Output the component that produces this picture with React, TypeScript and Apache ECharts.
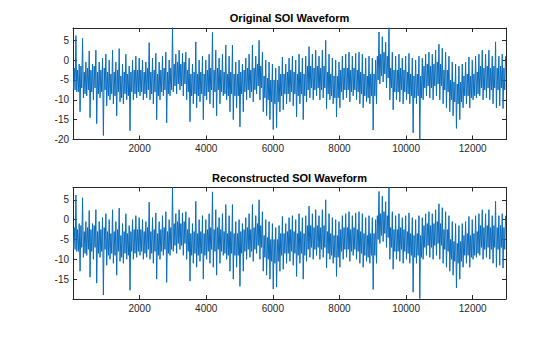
import React, { useEffect, useRef } from "react";
import * as echarts from "echarts";

// Envelope of the SOI waveform, per 100-sample bin
// (bins 0..129 cover samples 0..13000): outer low/high (incl. spikes) and the
// dense core band low/high.
const binWidth = 100;
const origLow = [
  -7.5, -8, -13, -9.5, -9, -14.5, -10, -16, -9.5, -19,
  -11.5, -10, -11, -14, -10.5, -11, -10, -17.8, -10, -9.5,
  -9, -10, -9.5, -10, -11, -15, -10, -9, -15.8, -9,
  -8, -8.5, -7.5, -9, -10, -15.5, -11, -12, -10.5, -15,
  -10, -11, -12, -14, -11, -9, -10, -13, -15, -12,
  -16.8, -13, -10, -9.5, -10.5, -8.5, -10, -13, -14, -15,
  -17.5, -17, -13, -12.5, -11, -10.5, -11.5, -14.3, -11, -15,
  -10.5, -9.5, -10, -9, -10, -9.5, -12.2, -10, -11, -14.3,
  -12, -10, -9.5, -10.5, -9, -10, -11, -12, -10.5, -11,
  -17.6, -11, -6, -5.5, -7, -10, -12.5, -10, -10.5, -11,
  -10, -11, -18.3, -11, -20, -10, -9, -9.5, -10, -9,
  -10, -11, -12, -13, -14, -17.2, -15, -12, -11, -12,
  -10, -9.5, -9, -10, -9.5, -10, -11, -12, -11.5, -12.2,
];
const origHigh = [
  6.2, -1, 5.5, -0.5, 2.3, -1, 2.5, -0.5, 0.5, 1.5,
  0, 2.5, -0.5, 2.9, -1, 1.5, -1.5, 0, 1, 0.5,
  0, -0.5, 4.4, 0.5, 1.7, -0.5, 1, 2, 0, 8.2,
  1.5, 2.5, 1.7, 2, 0.5, -1, 4.6, 0, 1, 0,
  1.5, 7, 2.5, 0.5, 1.5, 3.8, 1, 3.8, -0.5, 0,
  -1, 0.5, 1.5, 3.8, 1, 5, 2, 0, -0.5, -1,
  -2, -1.5, 0.8, -1, 0.5, 1, 0, 1.5, 0.5, 1,
  3.4, 1.5, 2.5, 1, 2.5, 5, 1.5, 0.5, 0, -0.5,
  1, 1.5, 2, 1, 1.7, 2, 1.5, 0.5, 1, 0.5,
  0, 7.1, 5.9, 4.5, 8.2, 2, 1, 1.5, 0.5, 1,
  1.7, 0.5, 0, 1, 0.5, 1.5, 2, 1.5, 2.5, 4,
  3, 2, 1, -0.5, -1, -1.5, -1, -0.5, 0.8, 0,
  1, 1.5, 2.5, 1.5, 2.5, 1, 4.6, 1, 1.5, 1,
];
const coreLow = [
  -7.5, -8, -7, -8.5, -7.5, -8, -7, -8.5, -8, -7.5,
  -9, -8.5, -9, -8, -9.5, -8.5, -9, -8, -8.5, -8,
  -8, -8.5, -7.5, -8.5, -8, -9, -8, -7.5, -8.5, -7.5,
  -6.5, -6, -6.5, -6, -8, -9, -8.5, -9, -8.5, -9,
  -8, -7.5, -8, -7.5, -8, -8.5, -9, -8.5, -9, -9,
  -8.5, -8, -7.5, -8, -7.5, -6.5, -7, -9.5, -10, -10.5,
  -11, -10.5, -9, -8.5, -8.5, -8, -8.5, -9, -8.5, -9,
  -7.5, -7, -7.5, -7, -7.5, -7, -8.5, -9, -9.5, -9.5,
  -8, -7.5, -7.5, -8, -7.5, -8, -8.5, -9, -9.5, -9,
  -9, -5, -4, -3.5, -4.5, -7, -8, -8, -7.5, -8,
  -8.5, -9, -9.5, -9, -9.5, -7, -6.5, -7, -6.5, -6,
  -6.5, -7.5, -8, -10, -10.5, -11, -10.5, -9, -9, -9.5,
  -9, -8.5, -7, -7.5, -7, -7.5, -7, -7.5, -7, -7.5,
];
const coreHigh = [
  -2, -2.5, -1.5, -3, -2, -2.5, -1.5, -3, -2.5, -2,
  -3, -3.5, -3, -2.5, -4, -3, -3.5, -3, -2.5, -2.5,
  -2.5, -3, -2, -3, -2.5, -3.5, -2.5, -2, -3, -2,
  -1, -0.5, -1, -0.5, -2.5, -3.5, -3, -3.5, -3, -3.5,
  -2.5, -2, -2.5, -2, -2.5, -3, -3.5, -3, -3.5, -3.5,
  -3, -2.5, -2, -2.5, -2, -1, -1.5, -4, -4.5, -5,
  -5, -5, -3.5, -3.5, -3, -2.5, -3, -3.5, -3, -3.5,
  -1.5, -1.5, -2, -1.5, -2, -1.5, -3, -3.5, -4, -4,
  -2.5, -2, -2, -2.5, -2, -2.5, -3, -3.5, -4, -3.5,
  -3.5, 1, 1.5, 2, 1, -2, -2.5, -2.5, -2, -2.5,
  -3, -3.5, -4, -3.5, -4, -1.5, -1, -1.5, -1, -0.5,
  -1, -2.5, -2.5, -5, -5.5, -6, -5.5, -4, -3.5, -4,
  -3.5, -3, -1.5, -2, -1.5, -2, -1.5, -2, -1.5, -2,
];
// The reconstruction is visually identical to the original waveform.
const reconLow = origLow.map((v) => Math.max(v, -19.9));
const reconHigh = origHigh.slice();

const xTicks = [2000, 4000, 6000, 8000, 10000, 12000];
const yTicks = [-20, -15, -10, -5, 0, 5];
const titles = ["Original SOI Waveform", "Reconstructed SOI Waveform"];

function toLine(lo: number[], hi: number[], cLo: number[], cHi: number[]) {
  const pts: number[][] = [];
  for (let i = 0; i < lo.length; i++) {
    const x0 = i * binWidth;
    pts.push([x0 + 12, lo[i]]);
    pts.push([x0 + 37, cHi[i]]);
    pts.push([x0 + 62, cLo[i]]);
    pts.push([x0 + 87, hi[i]]);
  }
  return pts;
}

const AX = "#262626";
const FONT = "Liberation Sans, Arial, Helvetica, sans-serif";

export default function App() {
  const ref = useRef<HTMLDivElement>(null);
  useEffect(() => {
    if (!ref.current) return;
    const chart = echarts.init(ref.current, undefined, { renderer: "svg" });
    const grids = [
      { left: 73, top: 28, width: 433, height: 111.5 },
      { left: 73, top: 187.5, width: 433, height: 111.5 },
    ];
    const xAxes: any[] = [];
    const yAxes: any[] = [];
    grids.forEach((_, g) => {
      ["bottom", "top"].forEach((pos) => {
        xAxes.push({
          type: "value",
          gridIndex: g,
          position: pos,
          min: 0,
          max: 13000,
          interval: 2000,
          axisLine: { show: true, onZero: false, lineStyle: { color: AX, width: 1 } },
          axisTick: { show: true, inside: true, length: 4, lineStyle: { color: AX, width: 1 } },
          axisLabel: {
            show: pos === "bottom",
            margin: 4,
            color: AX,
            fontSize: 10,
            fontFamily: FONT,
            formatter: (v: number) => (xTicks.indexOf(v) >= 0 ? String(v) : ""),
          },
          splitLine: { show: false },
        });
      });
      ["left", "right"].forEach((pos) => {
        yAxes.push({
          type: "value",
          gridIndex: g,
          position: pos,
          min: -20,
          max: 8.1,
          interval: 5,
          axisLine: { show: true, onZero: false, lineStyle: { color: AX, width: 1 } },
          axisTick: { show: true, inside: true, length: 4, lineStyle: { color: AX, width: 1 } },
          axisLabel: {
            show: pos === "left",
            margin: 4,
            color: AX,
            fontSize: 10,
            fontFamily: FONT,
            formatter: (v: number) =>
              yTicks.indexOf(v) >= 0 && !(g === 1 && v === -20) ? String(v) : "",
          },
          splitLine: { show: false },
        });
      });
    });
    const lineSeries = (data: number[][], idx: number) => ({
      type: "line",
      xAxisIndex: idx,
      yAxisIndex: idx,
      data,
      showSymbol: false,
      symbol: "none",
      clip: true,
      lineStyle: { color: "#0a6cbc", width: 1 },
      silent: true,
    });
    chart.setOption({
      animation: false,
      grid: grids,
      xAxis: xAxes,
      yAxis: yAxes,
      series: [
        lineSeries(toLine(origLow, origHigh, coreLow, coreHigh), 0),
        lineSeries(toLine(reconLow, reconHigh, coreLow, coreHigh), 2),
      ],
      graphic: [
        {
          type: "text",
          x: 289.5,
          y: 18,
          style: {
            text: titles[0],
            fill: "#000",
            font: `bold 11px ${FONT}`,
            textAlign: "center",
            textVerticalAlign: "middle",
          },
        },
        {
          type: "text",
          x: 289.5,
          y: 178,
          style: {
            text: titles[1],
            fill: "#000",
            font: `bold 11px ${FONT}`,
            textAlign: "center",
            textVerticalAlign: "middle",
          },
        },
      ],
    });
    return () => chart.dispose();
  }, []);
  return (
    <div
      ref={ref}
      style={{ position: "absolute", left: 0, top: 0, width: 560, height: 337, background: "#fff" }}
    />
  );
}
